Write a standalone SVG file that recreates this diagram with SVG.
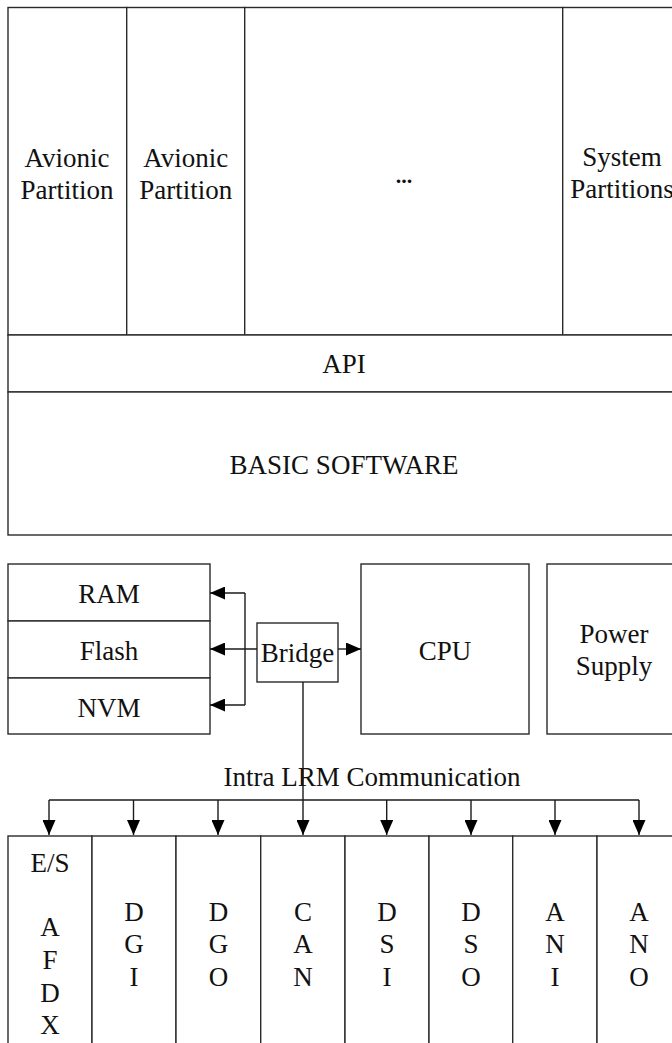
<svg xmlns="http://www.w3.org/2000/svg" width="672" height="1043" viewBox="0 0 672 1043">
  <style>
    .box { fill: #ffffff; stroke: #2a2a2a; stroke-width: 1.4; }
    text { font-family: "Liberation Serif", "Times New Roman", serif; font-size: 27px; fill: #111; text-anchor: middle; }
    .dots { font-size: 22px; font-weight: bold; }
    .wire { fill: none; stroke: #1a1a1a; stroke-width: 1.4; }
  </style>
  <defs>
    <marker id="arrow" markerUnits="userSpaceOnUse" markerWidth="15" markerHeight="13" refX="15" refY="6.5" orient="auto">
      <path d="M0,0 L15,6.5 L0,13 z" fill="#000"/>
    </marker>
  </defs>

  <rect width="672" height="1043" fill="#ffffff"/>

  <!-- Software layers -->
  <g id="partition-avionic-1">
    <rect class="box" x="8" y="7.5" width="118.7" height="327.5"/>
    <text x="67" y="167">Avionic</text>
    <text x="67" y="199">Partition</text>
  </g>
  <g id="partition-avionic-2">
    <rect class="box" x="126.7" y="7.5" width="118" height="327.5"/>
    <text x="185.7" y="167">Avionic</text>
    <text x="185.7" y="199">Partition</text>
  </g>
  <g id="partition-more">
    <rect class="box" x="244.7" y="7.5" width="318" height="327.5"/>
    <text class="dots" x="404" y="183">...</text>
  </g>
  <g id="partition-system">
    <rect class="box" x="562.7" y="7.5" width="118.3" height="327.5"/>
    <text x="622" y="166">System</text>
    <text x="622" y="198">Partitions</text>
  </g>
  <g id="api">
    <rect class="box" x="8" y="335" width="673" height="57"/>
    <text x="344" y="373">API</text>
  </g>
  <g id="basic-software">
    <rect class="box" x="8" y="392" width="673" height="143"/>
    <text x="344" y="474">BASIC SOFTWARE</text>
  </g>

  <!-- Hardware -->
  <g id="ram">
    <rect class="box" x="8" y="564" width="202" height="57"/>
    <text x="109" y="603">RAM</text>
  </g>
  <g id="flash">
    <rect class="box" x="8" y="621" width="202" height="57"/>
    <text x="109" y="660">Flash</text>
  </g>
  <g id="nvm">
    <rect class="box" x="8" y="678" width="202" height="56"/>
    <text x="109" y="717">NVM</text>
  </g>
  <g id="bridge">
    <rect class="box" x="257" y="623" width="81" height="59"/>
    <text x="297.5" y="662">Bridge</text>
  </g>
  <g id="cpu">
    <rect class="box" x="361" y="564" width="168" height="170"/>
    <text x="445" y="660">CPU</text>
  </g>
  <g id="power-supply">
    <rect class="box" x="547" y="564" width="134" height="170"/>
    <text x="614" y="643">Power</text>
    <text x="614" y="675">Supply</text>
  </g>

  <text id="bus-label" x="372" y="786">Intra LRM Communication</text>

  <!-- I/O boards -->
  <g id="io-es-afdx">
    <rect class="box" x="8" y="836" width="84" height="220"/>
    <text x="50" y="872">E/S</text>
    <text x="50" y="936">A</text>
    <text x="50" y="969">F</text>
    <text x="50" y="1002">D</text>
    <text x="50" y="1034">X</text>
  </g>
  <g id="io-dgi">
    <rect class="box" x="92" y="836" width="84" height="220"/>
    <text x="134" y="921">D</text>
    <text x="134" y="953">G</text>
    <text x="134" y="986">I</text>
  </g>
  <g id="io-dgo">
    <rect class="box" x="176" y="836" width="84.7" height="220"/>
    <text x="218.5" y="921">D</text>
    <text x="218.5" y="953">G</text>
    <text x="218.5" y="986">O</text>
  </g>
  <g id="io-can">
    <rect class="box" x="260.7" y="836" width="84.3" height="220"/>
    <text x="303" y="921">C</text>
    <text x="303" y="953">A</text>
    <text x="303" y="986">N</text>
  </g>
  <g id="io-dsi">
    <rect class="box" x="345" y="836" width="84" height="220"/>
    <text x="387" y="921">D</text>
    <text x="387" y="953">S</text>
    <text x="387" y="986">I</text>
  </g>
  <g id="io-dso">
    <rect class="box" x="429" y="836" width="83.7" height="220"/>
    <text x="471" y="921">D</text>
    <text x="471" y="953">S</text>
    <text x="471" y="986">O</text>
  </g>
  <g id="io-ani">
    <rect class="box" x="512.7" y="836" width="84.3" height="220"/>
    <text x="555" y="921">A</text>
    <text x="555" y="953">N</text>
    <text x="555" y="986">I</text>
  </g>
  <g id="io-ano">
    <rect class="box" x="597" y="836" width="84" height="220"/>
    <text x="639" y="921">A</text>
    <text x="639" y="953">N</text>
    <text x="639" y="986">O</text>
  </g>

  <g id="connectors">
    <!-- Bridge to memories -->
    <path class="wire" d="M257,649 L210,649" marker-end="url(#arrow)"/>
    <path class="wire" d="M245,593 L245,705"/>
    <path class="wire" d="M245,593 L210,593" marker-end="url(#arrow)"/>
    <path class="wire" d="M245,705 L210,705" marker-end="url(#arrow)"/>
    <!-- Bridge to CPU -->
    <path class="wire" d="M338,649 L361,649" marker-end="url(#arrow)"/>
    <!-- Bridge down to the I/O bus -->
    <path class="wire" d="M303,682 L303,835" marker-end="url(#arrow)"/>
    <!-- Intra LRM bus -->
    <path class="wire" d="M49,800 L639,800"/>
    <path class="wire" d="M49,800 L49,835" marker-end="url(#arrow)"/>
    <path class="wire" d="M133.5,800 L133.5,835" marker-end="url(#arrow)"/>
    <path class="wire" d="M218,800 L218,835" marker-end="url(#arrow)"/>
    <path class="wire" d="M386.7,800 L386.7,835" marker-end="url(#arrow)"/>
    <path class="wire" d="M471,800 L471,835" marker-end="url(#arrow)"/>
    <path class="wire" d="M555,800 L555,835" marker-end="url(#arrow)"/>
    <path class="wire" d="M639,800 L639,835" marker-end="url(#arrow)"/>
  </g>
</svg>
